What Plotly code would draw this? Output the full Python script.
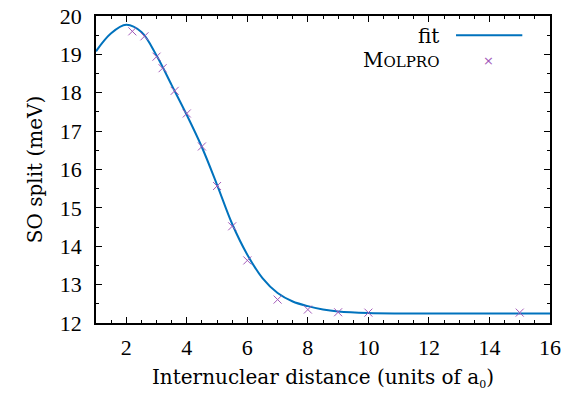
import plotly.graph_objects as go

# Fit curve
fit_x = [1, 1.5, 2, 2.5, 3, 3.5, 4, 4.5, 5, 5.5, 6, 6.5, 7, 7.5, 8, 8.5, 9, 10, 11, 12, 14, 16]
fit_y = [19.08, 19.55, 19.77, 19.58, 18.97, 18.2, 17.42, 16.58, 15.6, 14.58, 13.78, 13.17,
         12.78, 12.56, 12.44, 12.35, 12.3, 12.26, 12.25, 12.25, 12.25, 12.25]

# Molpro points
mol_x = [2.2, 2.6, 3.0, 3.2, 3.6, 4.0, 4.5, 5.0, 5.5, 6.0, 7.0, 8.0, 9.0, 10.0, 15.0]
mol_y = [19.6, 19.47, 18.94, 18.64, 18.05, 17.46, 16.6, 15.57, 14.52, 13.63, 12.61, 12.35, 12.28, 12.27, 12.27]

TFONT = "DejaVu Serif"
NFONT = "Liberation Serif"
BLUE = "#0072bd"
PURPLE = "#a35ab9"

fig = go.Figure()
fig.add_trace(go.Scatter(x=fit_x, y=fit_y, mode="lines", name="fit",
                         line=dict(color=BLUE, width=2, shape="spline", smoothing=1.0)))
fig.add_trace(go.Scatter(x=mol_x, y=mol_y, mode="markers", name="Molpro",
                         marker=dict(symbol="x-thin-open", size=8, color=PURPLE,
                                     line=dict(color=PURPLE, width=1))))

axis_common = dict(
    showline=True, linecolor="black", linewidth=1.5, mirror="ticks",
    ticks="inside", ticklen=6, tickwidth=1.2, tickcolor="black",
    showgrid=False, zeroline=False, automargin=False,
    tickfont=dict(family=NFONT, size=22, color="black"),
)

fig.update_xaxes(range=[1, 16], dtick=2, tick0=0, ticklabelstandoff=4,
                 minor=dict(dtick=0.5, ticks="inside", ticklen=3, tickcolor="black", tickwidth=1),
                 title=dict(text="Internuclear distance (units of a<sub><span style='font-size:11px'>0</span></sub>)",
                            font=dict(family=TFONT, size=20, color="black"), standoff=11),
                 **axis_common)
fig.update_yaxes(range=[12, 20], dtick=1, ticklabelstandoff=8,
                 minor=dict(dtick=0.5, ticks="inside", ticklen=3, tickcolor="black", tickwidth=1),
                 title=dict(text="SO split (meV)",
                            font=dict(family=TFONT, size=20, color="black"), standoff=12),
                 **axis_common)

# gnuplot-style key: text left of sample
fig.add_annotation(xref="paper", yref="paper", x=0.760, y=0.935, xanchor="right", yanchor="middle",
                   text="fit", showarrow=False, font=dict(family=TFONT, size=20, color="black"))
fig.add_annotation(xref="paper", yref="paper", x=0.760, y=0.857, xanchor="right", yanchor="middle",
                   text="M<span style='font-size:15px'>OLPRO</span>", showarrow=False,
                   font=dict(family=TFONT, size=20, color="black"))
fig.add_shape(type="line", xref="paper", yref="paper", x0=0.793, x1=0.939, y0=0.937, y1=0.937,
              line=dict(color=BLUE, width=2))
fig.add_annotation(xref="paper", yref="paper", x=0.865, y=0.855, xanchor="center", yanchor="middle",
                   text="×", showarrow=False, font=dict(family="DejaVu Sans", size=13, color=PURPLE))

fig.update_layout(
    width=570, height=399,
    margin=dict(l=96, r=20, t=16, b=76, autoexpand=False),
    paper_bgcolor="white", plot_bgcolor="white",
    showlegend=False,
    font=dict(family=TFONT, color="black"),
)

fig.write_html("out.html")
